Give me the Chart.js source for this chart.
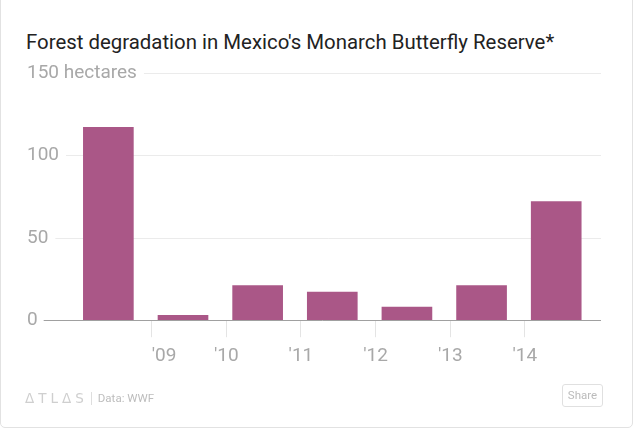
<!DOCTYPE html>
<html>
<head>
<meta charset="utf-8">
<script src="https://cdn.jsdelivr.net/npm/chart.js@4.4.1/dist/chart.umd.min.js"></script>
<style>
  html, body { margin: 0; padding: 0; background: #fff; width: 634px; height: 433px; overflow: hidden; }
  #card { position: absolute; left: 0; top: -10px; width: 633px; height: 438px; border: 1px solid #e2e2e2; border-radius: 5px; box-sizing: border-box; }
  #title { position: absolute; left: 26px; top: 32px; font: 400 20.4px Roboto, "Liberation Sans", sans-serif; color: #222; white-space: nowrap; line-height: 21px; }
  #chartBox { position: absolute; left: 0; top: 0; width: 634px; height: 433px; }
  #footer { position: absolute; left: 25px; top: 388px; height: 16px; white-space: nowrap; color: #c4c4c4; }
  #logo { display: inline-block; font: 400 13.5px "DejaVu Sans", sans-serif; letter-spacing: 4px; color: #cfcfcf; vertical-align: middle; }
  #sep { display: inline-block; width: 1px; height: 13px; background: #dedede; margin: 0 6px 0 3px; vertical-align: middle; }
  #source { display: inline-block; font: 400 11.5px Roboto, sans-serif; color: #bdbdbd; vertical-align: middle; }
  #share { position: absolute; left: 562px; top: 384px; width: 41px; height: 23px; box-sizing: border-box; border: 1px solid #e0e0e0; border-radius: 3px; text-align: center; font: 400 11.5px Roboto, sans-serif; line-height: 21px; color: #bbb; }
</style>
</head>
<body>
<div id="card"></div>
<div id="title">Forest degradation in Mexico's Monarch Butterfly Reserve*</div>
<div id="chartBox"><canvas id="c" width="634" height="433"></canvas></div>
<div id="footer"><span id="logo">ΔTLΔS</span><span id="sep"></span><span id="source">Data: WWF</span></div>
<div id="share">Share</div>
<script>
// ---- data ----
const years = [2008, 2009, 2010, 2011, 2012, 2013, 2014];
const hectares = [117, 3, 21, 17, 8, 21, 72];
const tickYears = [2009, 2010, 2011, 2012, 2013, 2014];
const tickLabels = ["'09", "'10", "'11", "'12", "'13", "'14"];
const yTicks = [0, 50, 100, 150];
const yUnit = 'hectares';

// ---- style ----
const TICK_FONT = 'Roboto, "Liberation Sans", sans-serif';
const LABEL_GREY = '#a8a8a8';
const BAR_COLOR = '#aa5787';
const SEASON_OFFSET = 0.42; // bars sit within each season after the year start

const partialGrid = {
  id: 'partialGrid',
  draw(chart, zeroOnly) {
    const y = chart.scales.y;
    const ctx = chart.ctx;
    const area = chart.chartArea;
    const f = Chart.helpers.toFont(y.options.ticks.font);
    ctx.save();
    ctx.font = f.string;
    ctx.lineWidth = 1;
    y.ticks.forEach(t => {
      const isZero = t.value === 0;
      if (isZero !== zeroOnly) return;
      const w = ctx.measureText(String(t.label)).width;
      const x0 = area.left + w + (isZero ? 6 : 7);
      const py = Math.round(y.getPixelForValue(t.value)) + 0.5;
      ctx.strokeStyle = isZero ? '#a0a0a0' : '#ebebeb';
      ctx.beginPath();
      ctx.moveTo(x0, py);
      ctx.lineTo(area.right, py);
      ctx.stroke();
    });
    ctx.restore();
  },
  beforeDatasetsDraw(chart) { this.draw(chart, false); },
  afterDatasetsDraw(chart) { this.draw(chart, true); }
};

new Chart(document.getElementById('c'), {
  type: 'bar',
  data: {
    datasets: [{
      data: years.map((yr, i) => ({ x: yr + SEASON_OFFSET, y: hectares[i] })),
      backgroundColor: BAR_COLOR,
      borderWidth: 0,
      barThickness: 50
    }]
  },
  options: {
    responsive: false,
    animation: false,
    layout: { padding: { left: 27, right: 33, top: 73, bottom: 57 } },
    plugins: { legend: { display: false }, tooltip: { enabled: false } },
    scales: {
      x: {
        type: 'linear',
        offset: false,
        min: 2007.33,
        max: 2015.02,
        afterBuildTicks: s => { s.ticks = tickYears.concat([s.max]).map(v => ({ value: v })); },
        ticks: {
          autoSkip: false, maxRotation: 0, align: 'inner', padding: 8,
          color: LABEL_GREY, font: { family: TICK_FONT, size: 19 },
          callback: (v, i) => (i < tickLabels.length ? tickLabels[i] : '')
        },
        grid: {
          offset: false,
          drawOnChartArea: false, drawTicks: true, tickLength: 17,
          tickColor: c => (c.index < tickLabels.length ? '#e4e4e4' : 'rgba(0,0,0,0)')
        },
        border: { display: false }
      },
      y: {
        min: 0,
        max: 150,
        afterBuildTicks: s => { s.ticks = yTicks.map(v => ({ value: v })); },
        ticks: {
          mirror: true, padding: 0,
          color: LABEL_GREY, font: { family: TICK_FONT, size: 19 },
          callback: v => (v === yTicks[yTicks.length - 1] ? v + ' ' + yUnit : String(v))
        },
        grid: { display: false, drawTicks: false },
        border: { display: false }
      }
    }
  },
  plugins: [partialGrid]
});
</script>
</body>
</html>
